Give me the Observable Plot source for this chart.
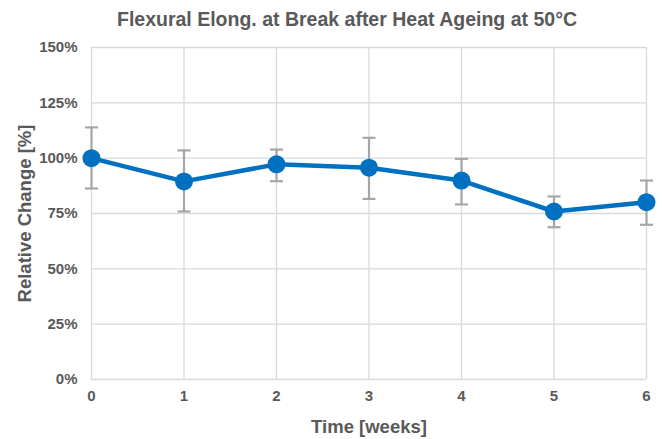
<!DOCTYPE html>
<html>
<head>
<meta charset="utf-8">
<script src="https://cdn.jsdelivr.net/npm/d3@7"></script>
<script src="https://cdn.jsdelivr.net/npm/@observablehq/plot@0.6"></script>
<style>
  html, body { margin: 0; padding: 0; background: #fff; }
  body { width: 662px; font-family: "Liberation Sans", Arial, sans-serif; }
  #title { height: 36px; line-height: 38px; font-size: 19.5px; font-weight: bold; color: #595959; text-align: center; padding-left: 32px; box-sizing: border-box; width: 662px; white-space: nowrap; }
</style>
</head>
<body>
<div id="title">Flexural Elong. at Break after Heat Ageing at 50°C</div>
<div id="chart"></div>
<script>
const weeks = [0, 1, 2, 3, 4, 5, 6];
const change = [100, 89.5, 97.2, 95.7, 89.9, 75.9, 80.1];
const errLow = [86.3, 75.9, 89.6, 81.6, 79.1, 68.8, 69.9];
const errHigh = [113.9, 103.5, 103.9, 109.2, 99.7, 82.7, 89.9];
const yTicks = [0, 25, 50, 75, 100, 125, 150];

const data = weeks.map((w, i) => ({week: w, value: change[i], lo: errLow[i], hi: errHigh[i]}));
const caps = data.flatMap(d => [{week: d.week, v: d.lo}, {week: d.week, v: d.hi}]);

const capSymbol = {
  draw(ctx, size) {
    const r = Math.sqrt(size / Math.PI);
    ctx.moveTo(-r, 0);
    ctx.lineTo(r, 0);
  }
};

const gray = "#595959";
const chart = Plot.plot({
  width: 662,
  height: 403,
  marginTop: 11,
  marginBottom: 60,
  marginLeft: 91,
  marginRight: 16,
  style: {fontFamily: "'Liberation Sans', Arial, sans-serif", background: "#fff"},
  x: {domain: [0, 6], ticks: weeks},
  y: {domain: [0, 150], ticks: yTicks},
  marks: [
    Plot.gridX(weeks, {stroke: "#d9d9d9", strokeOpacity: 1, strokeWidth: 1.3}),
    Plot.gridY(yTicks, {stroke: "#d9d9d9", strokeOpacity: 1, strokeWidth: 1.3}),
    Plot.axisX({ticks: weeks, tickSize: 0, tickPadding: 11, fontSize: 15, fontWeight: "bold", fill: gray,
      tickFormat: d => String(d), label: null}),
    Plot.axisY({ticks: yTicks, tickSize: 0, tickPadding: 14, fontSize: 15, fontWeight: "bold", fill: gray,
      tickFormat: d => d + "%", label: null}),
    Plot.text(["Relative Change [%]"], {frameAnchor: "left", textAnchor: "middle", lineAnchor: "middle", dx: -66, rotate: -90, fontSize: 18.5, fontWeight: "bold", fill: gray}),
    Plot.text(["Time [weeks]"], {frameAnchor: "bottom", lineAnchor: "middle", dy: 48, fontSize: 18.5, fontWeight: "bold", fill: gray}),
    Plot.ruleX(data, {x: "week", y1: "lo", y2: "hi", stroke: "#a6a6a6", strokeWidth: 2.2}),
    Plot.dot(caps, {x: "week", y: "v", r: 6.5, symbol: capSymbol, stroke: "#a6a6a6", strokeWidth: 2.2, fill: "none"}),
    Plot.line(data, {x: "week", y: "value", stroke: "#0070c0", strokeWidth: 4.5}),
    Plot.dot(data, {x: "week", y: "value", r: 9, fill: "#0070c0", stroke: "none"})
  ]
});
document.getElementById("chart").appendChild(chart);
</script>
</body>
</html>
